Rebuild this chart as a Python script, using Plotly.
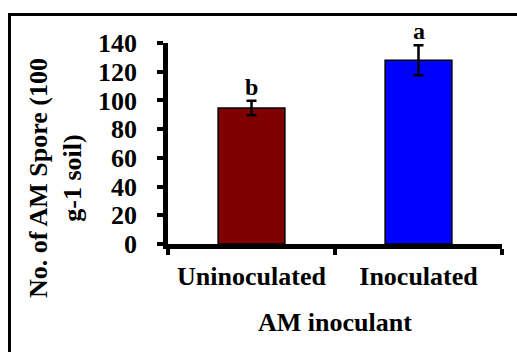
import plotly.graph_objects as go

categories = ["Uninoculated", "Inoculated"]
values = [94.7, 128.0]
errors = [5.0, 10.5]
letters = ["b", "a"]
colors = ["#7F0000", "#0000FF"]
y_ticks = [0, 20, 40, 60, 80, 100, 120, 140]

W, H = 517, 352
L, R, T, B = 168, 15, 43, 108
pw, ph = W - L - R, H - T - B

def px_x(px):
    return (px - L) / pw

def px_y(py):
    return (H - B - py) / ph

FONT = "Liberation Serif"

fig = go.Figure()
fig.add_trace(go.Bar(
    x=categories, y=values,
    marker=dict(color=colors, line=dict(color="black", width=1.5)),
    width=0.4,
    error_y=dict(type="data", array=errors, visible=True, color="black",
                 thickness=2.5, width=5),
    showlegend=False,
))

for c, v, e, t in zip(categories, values, errors, letters):
    fig.add_annotation(x=c, y=v + e, xref="x", yref="y", text=t, showarrow=False,
                       yanchor="bottom", yshift=-1,
                       font=dict(family=FONT, size=24, color="black", weight="bold"))

fig.add_annotation(xref="paper", yref="paper", x=px_x(55), y=px_y(178),
                   text="No. of AM Spore (100<br>g-1 soil)", textangle=-90,
                   showarrow=False, xanchor="center", yanchor="middle",
                   font=dict(family=FONT, size=26, color="black", weight="bold"))
fig.add_annotation(xref="paper", yref="paper", x=0.5, y=px_y(322),
                   text="AM inoculant", showarrow=False,
                   xanchor="center", yanchor="middle",
                   font=dict(family=FONT, size=26, color="black", weight="bold"))

fig.add_shape(type="rect", xref="paper", yref="paper",
              x0=px_x(9.5), x1=px_x(530), y0=px_y(14.5), y1=px_y(370),
              line=dict(color="black", width=3), fillcolor="rgba(0,0,0,0)")

fig.update_layout(
    width=W, height=H,
    margin=dict(l=L, r=R, t=T, b=B, pad=0, autoexpand=False),
    paper_bgcolor="white", plot_bgcolor="white",
    font=dict(family=FONT, size=26, color="black", weight="bold"),
    bargap=0.6,
)
fig.update_xaxes(
    automargin=False,
    showline=True, linecolor="black", linewidth=4.5,
    ticks="outside", tickson="boundaries", ticklen=6, tickwidth=4, tickcolor="black",
    tickfont=dict(family=FONT, size=26, color="black", weight="bold"),
    ticklabelstandoff=5, showgrid=False, zeroline=False,
)
fig.update_yaxes(
    automargin=False,
    range=[0, 140], tickvals=y_ticks,
    showline=True, linecolor="black", linewidth=4.5,
    ticks="outside", ticklen=6, tickwidth=4, tickcolor="black",
    tickfont=dict(family=FONT, size=26, color="black", weight="bold"),
    ticklabelstandoff=15, showgrid=False, zeroline=False,
)

fig.write_html("out.html", config={"displayModeBar": False},
               post_script="document.body.style.margin='0';document.body.style.overflow='hidden';")
